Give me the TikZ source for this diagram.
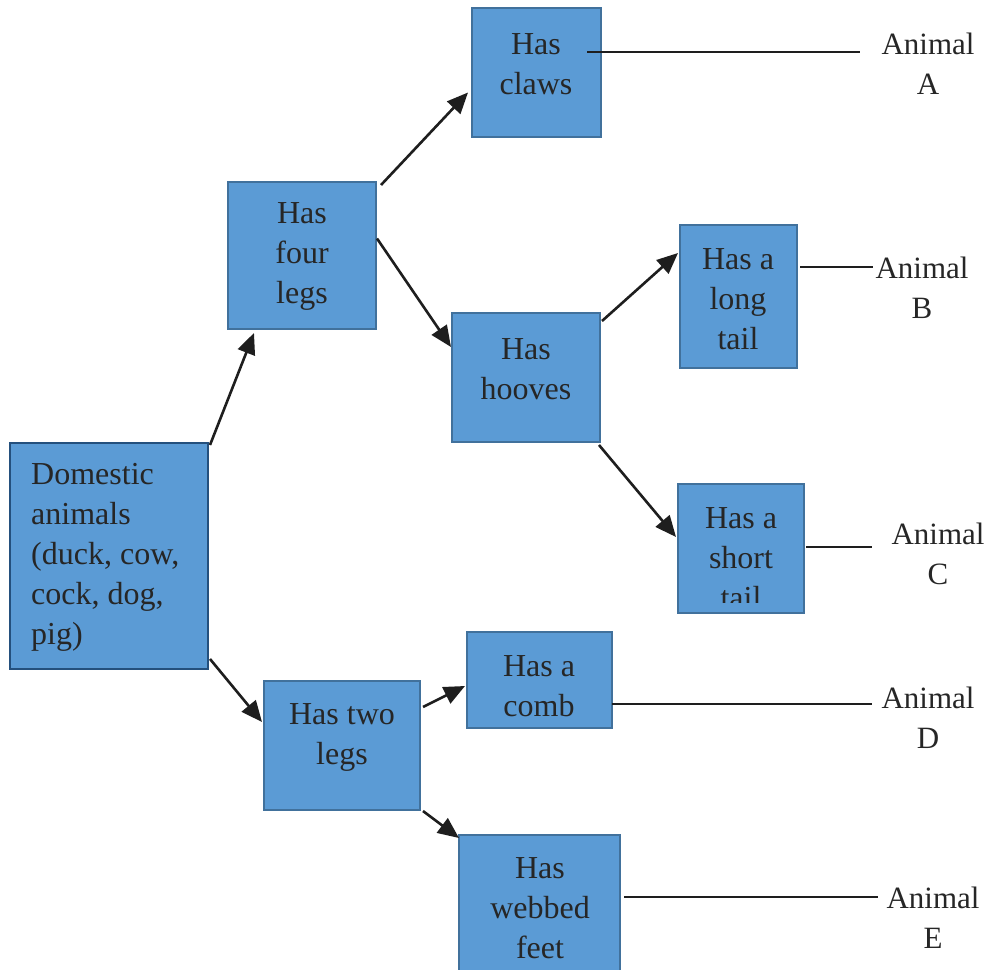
\documentclass[tikz,border=0pt]{standalone}
\usepackage{fontspec}
\setmainfont{Liberation Serif}
\usetikzlibrary{arrows.meta,calc}
\definecolor{boxfill}{HTML}{5B9BD5}
\definecolor{boxline}{HTML}{41719C}
\definecolor{domline}{HTML}{24507D}
\definecolor{txtcol}{HTML}{262626}
\definecolor{arrcol}{HTML}{1E1E1E}
\begin{document}
\begin{tikzpicture}[x=1pt,y=-1pt,
  box/.style={draw=boxline,fill=boxfill,line width=2pt,inner sep=0pt},
  txt/.style={text=txtcol,font=\fontsize{32}{40}\selectfont,align=center,inner sep=0pt},
  lbl/.style={text=txtcol,font=\fontsize{31}{40}\selectfont,align=center,inner sep=0pt},
  arr/.style={draw=arrcol,line width=2.6pt,-{Triangle[length=21pt,width=18pt]}},
  conn/.style={draw=arrcol,line width=1.3pt}]
\useasboundingbox (0,0) rectangle (992,969);
% boxes
\node[box,draw=domline,minimum width=198pt,minimum height=226pt] (dom) at (109,556) {};
\node[box,minimum width=148pt,minimum height=147pt] (four) at (302,255.5) {};
\node[box,minimum width=129pt,minimum height=129pt] (claws) at (536.5,72.5) {};
\node[box,minimum width=148pt,minimum height=129pt] (hooves) at (526,377.5) {};
\node[box,minimum width=117pt,minimum height=143pt] (longt) at (738.5,296.5) {};
\node[box,minimum width=126pt,minimum height=129pt] (shortt) at (741,548.5) {};
\node[box,minimum width=156pt,minimum height=129pt] (two) at (342,745.5) {};
\node[box,minimum width=145pt,minimum height=96pt] (comb) at (539.5,680) {};
\node[box,minimum width=161pt,minimum height=165pt] (webbed) at (539.5,917.5) {};
% texts
\node[txt,align=left,anchor=west] (tdom) at (31,557) {Domestic\\animals\\(duck, cow,\\cock, dog,\\pig)};
\node[txt] (tfour) at (302,256) {Has\\four\\legs};
\node[txt] (tclaws) at (536,64) {Has\\claws};
\node[txt] (thooves) at (526,369) {Has\\hooves};
\node[txt] (tlongt) at (738,299) {Has a\\long\\tail};
\begin{scope}
\clip (679,485) rectangle (803,602);
\node[txt] (tshortt) at (741,558) {Has a\\short\\tail};
\end{scope}
\node[txt] (ttwo) at (342,737) {Has two\\legs};
\node[txt] (tcomb) at (539,686) {Has a\\comb};
\node[txt] (twebbed) at (540,908) {Has\\webbed\\feet};
% animal labels
\node[lbl] (anA) at (928,64) {Animal\\A};
\node[lbl] (anB) at (922,288) {Animal\\B};
\node[lbl] (anC) at (938,554) {Animal\\C};
\node[lbl] (anD) at (928,718) {Animal\\D};
\node[lbl] (anE) at (933,918) {Animal\\E};
% arrows
\draw[arr] ($(dom.north east)+(1,3)$) -- ($(four.south west)+(27,3)$);
\draw[arr] ($(dom.south east)+(1,-11)$) -- ($(two.north west)+(-1,42)$);
\draw[arr] ($(four.north east)+(4,4)$) -- ($(claws.west)+(-3,20)$);
\draw[arr] ($(four.east)+(0,-17)$) -- ($(hooves.north west)+(0,35)$);
\draw[arr] ($(hooves.north east)+(1,9)$) -- ($(longt.north west)+(-1,29)$);
\draw[arr] ($(hooves.south east)+(-2,2)$) -- ($(shortt.north west)+(-1,54)$);
\draw[arr] ($(two.north east)+(2,27)$) -- ($(comb.west)+(-1,6)$);
\draw[arr] ($(two.south east)+(2,0)$) -- ($(webbed.north west)+(1,4)$);
% connectors to animals
\coordinate (ca1) at (587,52);
\coordinate (ca2) at (860,52);
\coordinate (cb1) at (800,267);
\coordinate (cb2) at (873,267);
\coordinate (cc1) at (806,547);
\coordinate (cc2) at (872,547);
\coordinate (cd1) at (612,704);
\coordinate (cd2) at (872,704);
\coordinate (ce1) at (624,897);
\coordinate (ce2) at (878,897);
\draw[conn] (ca1) -- (ca2);
\draw[conn] (cb1) -- (cb2);
\draw[conn] (cc1) -- (cc2);
\draw[conn] (cd1) -- (cd2);
\draw[conn] (ce1) -- (ce2);
\end{tikzpicture}
\end{document}
